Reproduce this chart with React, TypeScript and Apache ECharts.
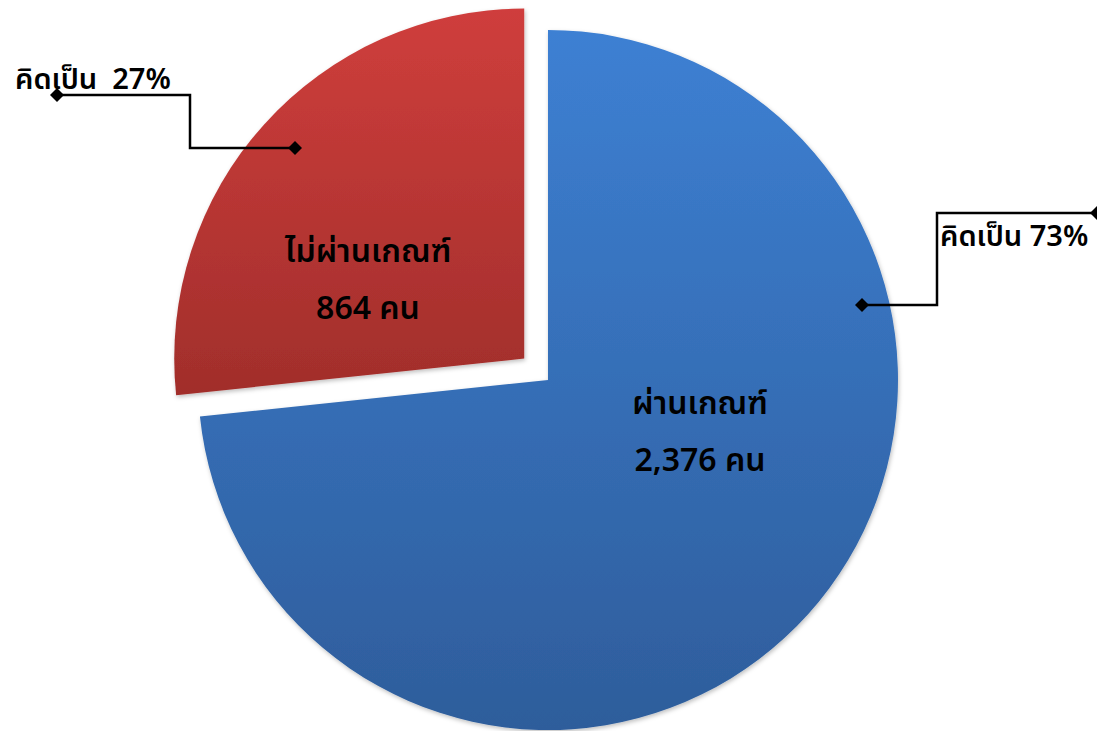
import React, { useEffect, useRef } from "react";
import * as echarts from "echarts";

const categories = ["ผ่านเกณฑ์", "ไม่ผ่านเกณฑ์"];
const values = [2376, 864];
const percentLabels = ["คิดเป็น 73%", "คิดเป็น  27%"];
const unit = "คน";

const FONT = "'Noto Sans Thai', 'Noto Sans', 'Noto Sans Thai UI', sans-serif";

const gradients = [
  ["#3d80d3", "#2e5d9b"],
  ["#cf3e3c", "#a12e2b"],
];

function diamond(x: number, y: number, s: number) {
  return {
    type: "polygon",
    shape: { points: [[x, y - s], [x + s, y], [x, y + s], [x - s, y]] },
    style: { fill: "#000" },
    z: 20,
  };
}

export default function App() {
  const ref = useRef<HTMLDivElement>(null);
  useEffect(() => {
    if (!ref.current) return;
    const chart = echarts.init(ref.current, undefined, { renderer: "svg" });
    const center = [548, 380];
    const radius = 350;
    const explodeIndex = 1;
    const explodeDist = 32;
    const total = values.reduce((a, b) => a + b, 0);
    let before = 0;
    for (let i = 0; i < explodeIndex; i++) before += values[i];
    const midDeg = ((before + values[explodeIndex] / 2) / total) * 360;
    const midRad = (midDeg * Math.PI) / 180;
    const explodedCenter = [
      center[0] + Math.sin(midRad) * explodeDist,
      center[1] - Math.cos(midRad) * explodeDist,
    ];

    const labelPos = [
      { x: 700, y: 432 },
      { x: 368, y: 280 },
    ];
    const callouts = [
      { pts: [[862, 305], [937, 305], [937, 213], [1097, 213]], tx: 940, ty: 237 },
      { pts: [[295, 148], [190, 148], [190, 95], [57, 95]], tx: 15, ty: 80 },
    ];
    const graphics: any[] = [];
    callouts.forEach((c, i) => {
      graphics.push({
        type: "polyline",
        shape: { points: c.pts },
        style: { stroke: "#000", lineWidth: 2.5, fill: "none" },
        z: 19,
      });
      graphics.push(diamond(c.pts[0][0], c.pts[0][1], 7));
      graphics.push(diamond(c.pts[3][0], c.pts[3][1], 7));
      graphics.push({
        type: "text",
        x: c.tx,
        y: c.ty,
        style: {
          text: percentLabels[i],
          font: `600 29px ${FONT}`,
          fill: "#000",
          textVerticalAlign: "middle",
          textAlign: "left",
        },
        z: 21,
      });
    });

    const makeSeries = (showIndex: number, c: number[]) => ({
      type: "pie",
      center: c,
      radius,
      startAngle: 90,
      clockwise: true,
      avoidLabelOverlap: false,
      emphasis: { disabled: true },
      label: {
        show: true,
        position: "inside",
        formatter: (p: any) =>
          `${p.name}\n${p.value.toLocaleString("en-US")} ${unit}`,
        fontFamily: FONT,
        fontSize: 32,
        fontWeight: 600,
        lineHeight: 57,
        color: "#000",
        align: "center",
      },
      labelLine: { show: false },
      labelLayout: (p: any) => ({
        x: labelPos[p.dataIndex].x,
        y: labelPos[p.dataIndex].y,
        align: "center",
        verticalAlign: "middle",
      }),
      data: categories.map((name, i) =>
        i === showIndex
          ? {
              name,
              value: values[i],
              itemStyle: {
                color: new echarts.graphic.LinearGradient(0, 0, 0, 1, [
                  { offset: 0, color: gradients[i][0] },
                  { offset: 1, color: gradients[i][1] },
                ]),
                shadowBlur: 4,
                shadowColor: "rgba(0,0,0,0.25)",
                shadowOffsetX: 1,
                shadowOffsetY: 2,
              },
            }
          : {
              name,
              value: values[i],
              itemStyle: { color: "rgba(0,0,0,0)" },
              label: { show: false },
            }
      ),
    });

    chart.setOption({
      animation: false,
      backgroundColor: "#fff",
      graphic: graphics,
      series: [makeSeries(0, center), makeSeries(1, explodedCenter)],
    });
    return () => chart.dispose();
  }, []);
  return (
    <div
      ref={ref}
      style={{ position: "fixed", left: 0, top: 0, width: 1097, height: 731 }}
    />
  );
}
